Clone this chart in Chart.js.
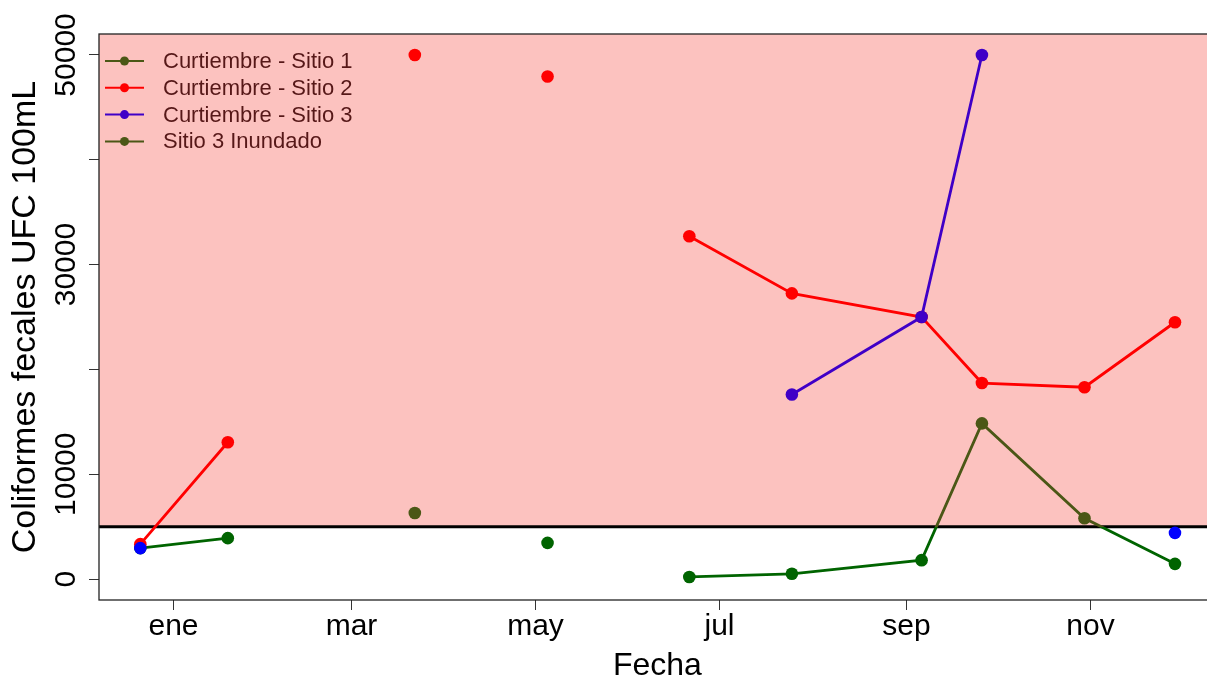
<!DOCTYPE html>
<html lang="es">
<head>
<meta charset="utf-8">
<title>Coliformes fecales</title>
<script src="https://cdn.jsdelivr.net/npm/chart.js@4.4.1/dist/chart.umd.min.js"></script>
<style>
  html, body { margin: 0; padding: 0; background: #fff; overflow: hidden; }
  #wrap { width: 1222px; height: 679px; }
</style>
</head>
<body>
<div id="wrap"><canvas id="chart" width="1222" height="679"></canvas></div>
<script>
// ── Data ──
// sampling dates; rows with no values are visits without data (they break the lines)
const DATES    = ['2018-12-21', '2019-01-19', '2019-02-20', '2019-03-22', '2019-04-13', '2019-05-05',
                  '2019-06-01', '2019-06-21', '2019-07-25', '2019-09-06', '2019-09-26', '2019-10-30', '2019-11-29'];
const SITIO1   = [2950, 3900, null, 6300, null, 3450, null, 200, 500, 1800, 14850, 5800, 1450];
const SITIO2   = [3330, 13050, null, 50000, null, 47950, null, 32700, 27250, 25000, 18700, 18300, 24500];
const SITIO3   = [2950, null, null, null, null, null, null, null, 17600, 25000, 50000, null, 4400];
const INUNDADO = [null, null, null, null, null, null, null, null, null, null, null, null, null];

const X_TICKS  = ['2019-01-01', '2019-03-01', '2019-05-01', '2019-07-01', '2019-09-01', '2019-11-01'];
const X_LABELS = ['ene', 'mar', 'may', 'jul', 'sep', 'nov'];
const Y_TICKS  = [0, 10000, 20000, 30000, 40000, 50000];
const Y_LABELS = [0, 10000, 30000, 50000];
const LIMIT    = 5000;   // límite permitido

// ── Colours ──
const OLIVE  = '#4b5716';
const GREEN  = '#006400';
const RED    = '#ff0000';
const PURPLE = '#3f00c7';
const BLUE   = '#0000ff';
const PINK   = '#fcc2bf';
const FONT   = "'Liberation Sans', Arial, sans-serif";

const DAY0 = Date.parse('2019-01-01');
const dayOf = d => (Date.parse(d) - DAY0) / 86400000;
const series = vals => DATES.map((d, i) => ({ x: dayOf(d), y: vals[i] }));

// colour above / below the limit line (line gets a hard-stop gradient)
function splitColor(above, below) {
  return c => {
    const { chart } = c;
    const a = chart.chartArea;
    if (!a) return above;
    const yl = chart.scales.y.getPixelForValue(LIMIT);
    const f = Math.min(1, Math.max(0, (yl - a.top) / (a.bottom - a.top)));
    const g = chart.ctx.createLinearGradient(0, a.top, 0, a.bottom);
    g.addColorStop(0, above);
    g.addColorStop(f, above);
    g.addColorStop(f, below);
    g.addColorStop(1, below);
    return g;
  };
}
const pointSplit = (above, below) => c => (c.raw && c.raw.y != null && c.raw.y < LIMIT) ? below : above;

// ── Background band, limit line, box ──
const plotDecor = {
  id: 'plotDecor',
  beforeDatasetsDraw(chart) {
    const { ctx, chartArea: a, scales: { y } } = chart;
    const yl = y.getPixelForValue(LIMIT);
    ctx.save();
    ctx.fillStyle = PINK;
    ctx.fillRect(a.left, a.top, a.right - a.left, yl - a.top);
    ctx.strokeStyle = '#000';
    ctx.lineWidth = 3;
    ctx.beginPath();
    ctx.moveTo(a.left, yl);
    ctx.lineTo(a.right, yl);
    ctx.stroke();
    ctx.restore();
  },
  afterDraw(chart) {
    const { ctx, chartArea: a } = chart;
    ctx.save();
    ctx.strokeStyle = '#222';
    ctx.lineWidth = 1.3;
    ctx.strokeRect(a.left, a.top, a.right - a.left, a.bottom - a.top);
    ctx.restore();
  }
};

// ── R style legend (line + point), top-left inside the plot ──
const rLegend = {
  id: 'rLegend',
  afterDatasetsDraw(chart) {
    const { ctx, chartArea: a } = chart;
    const items = chart.data.datasets.filter(d => d.legendColor)
      .sort((p, q) => p.legendIndex - q.legendIndex);
    ctx.save();
    ctx.font = '22px ' + FONT;
    ctx.textBaseline = 'middle';
    items.forEach((d, i) => {
      const yy = a.top + 27 + i * 26.8;
      ctx.strokeStyle = d.legendColor;
      ctx.fillStyle = d.legendColor;
      ctx.lineWidth = 2;
      ctx.beginPath();
      ctx.moveTo(a.left + 6, yy);
      ctx.lineTo(a.left + 45, yy);
      ctx.stroke();
      ctx.beginPath();
      ctx.arc(a.left + 25.5, yy, 4.5, 0, Math.PI * 2);
      ctx.fill();
      ctx.fillStyle = '#561818';
      ctx.fillText(d.label, a.left + 64, yy + 1);
    });
    ctx.restore();
  }
};

const common = {
  borderWidth: 2.8,
  pointRadius: 6.3,
  pointHoverRadius: 6.3,
  pointBorderWidth: 0,
  tension: 0,
  spanGaps: false,
};

new Chart(document.getElementById('chart'), {
  type: 'line',
  data: {
    datasets: [
      {
        ...common,
        label: 'Curtiembre - Sitio 3',
        data: series(SITIO3),
        borderColor: splitColor(PURPLE, BLUE),
        pointBackgroundColor: pointSplit(PURPLE, BLUE),
        legendColor: PURPLE, legendIndex: 2,
        order: 0,
      },
      {
        ...common,
        label: 'Curtiembre - Sitio 2',
        data: series(SITIO2),
        borderColor: RED,
        pointBackgroundColor: RED,
        legendColor: RED, legendIndex: 1,
        order: 1,
      },
      {
        ...common,
        label: 'Curtiembre - Sitio 1',
        data: series(SITIO1),
        borderColor: splitColor(OLIVE, GREEN),
        pointBackgroundColor: pointSplit(OLIVE, GREEN),
        legendColor: OLIVE, legendIndex: 0,
        order: 2,
      },
      {
        ...common,
        label: 'Sitio 3 Inundado',
        data: series(INUNDADO),
        borderColor: OLIVE,
        pointBackgroundColor: OLIVE,
        legendColor: OLIVE, legendIndex: 3,
        order: 3,
      },
    ]
  },
  options: {
    responsive: false,
    animation: false,
    events: [],
    layout: { padding: { left: 0, top: 34, right: 1, bottom: 0 } },
    plugins: { legend: { display: false }, tooltip: { enabled: false } },
    scales: {
      x: {
        type: 'linear',
        min: -24.7,
        max: 345.5,
        afterBuildTicks: s => { s.ticks = X_TICKS.map(d => ({ value: dayOf(d) })); },
        afterFit: s => { s.height = 79; },
        border: { display: false },
        grid: { drawOnChartArea: false, drawTicks: true, tickLength: 10, color: '#333', lineWidth: 1 },
        ticks: {
          padding: -1,
          color: '#000',
          font: { family: FONT, size: 30 },
          maxRotation: 0,
          autoSkip: false,
          callback: v => X_LABELS[X_TICKS.map(dayOf).indexOf(v)] || '',
        },
        title: {
          display: true,
          text: 'Fecha',
          color: '#000',
          font: { family: FONT, size: 32 },
          padding: { top: 0, bottom: -6 },
        },
      },
      y: {
        min: -2000,
        max: 52000,
        afterBuildTicks: s => { s.ticks = Y_TICKS.map(v => ({ value: v })); },
        afterFit: s => { s.width = 99; },
        border: { display: false },
        grid: { drawOnChartArea: false, drawTicks: true, tickLength: 10, color: '#333', lineWidth: 1 },
        ticks: {
          minRotation: 90,
          maxRotation: 90,
          crossAlign: 'center',
          padding: -19,
          color: '#000',
          font: { family: FONT, size: 30 },
          autoSkip: false,
          callback: v => Y_LABELS.includes(v) ? String(v) : '',
        },
        title: {
          display: true,
          text: 'Coliformes fecales UFC 100mL',
          color: '#000',
          font: { family: FONT, size: 34 },
          padding: { top: 5, bottom: 0 },
        },
      },
    },
  },
  plugins: [plotDecor, rLegend],
});
</script>
</body>
</html>
